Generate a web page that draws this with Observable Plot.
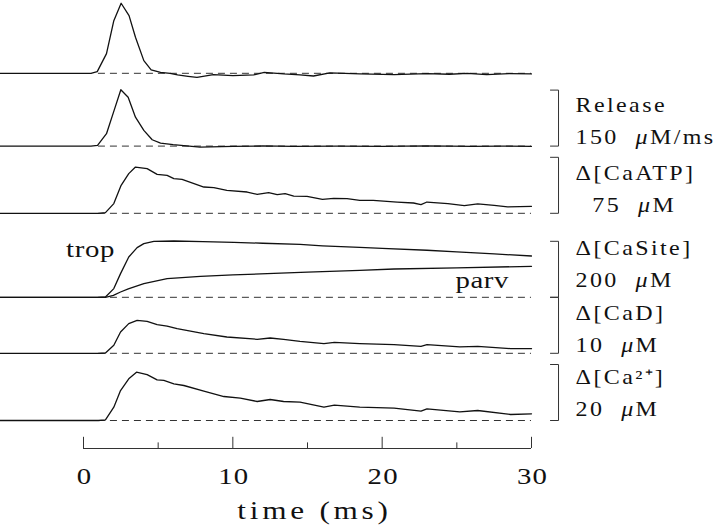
<!DOCTYPE html>
<html>
<head>
<meta charset="utf-8">
<script src="https://cdn.jsdelivr.net/npm/d3@7"></script>
<script src="https://cdn.jsdelivr.net/npm/@observablehq/plot@0.6"></script>
<style>
  html, body { margin: 0; padding: 0; background: #fff; }
  #chart svg { display: block; }
</style>
</head>
<body>
<div id="chart"></div>
<script>
// ---------- data (time in ms, values in trace units) ----------
const topTime    = [-5.6, 0.5, 0.92, 1.54, 2.03, 2.52, 3.05, 3.48, 4.04, 4.53, 5.16, 5.8, 6.3, 7.0, 7.6, 8.2, 8.7, 10.0, 11.4, 12.1, 13.4, 14.5, 15.4, 16.5, 18.5, 20.8, 23.0, 24.5, 25.7, 27.0, 28.5, 30];
const topValue   = [0, 0, 4.6, 52.8, 141, 187.6, 154.6, 96.5, 34, 9.1, 2.7, 0, -4.3, -8, -10.7, -7, -3.5, -6.2, -4.3, 2.7, -1.6, -4, -7.2, 1.1, -1.6, -3.5, -0.8, -2.5, 0, -3.5, -1, -1.6];

const releaseTime  = [-5.6, 0.5, 0.94, 1.54, 2.05, 2.5, 2.99, 3.48, 4.04, 4.6, 5.16, 6.0, 7.8, 10, 12, 14, 17, 20, 23, 26, 28, 30];
const releaseValue = [0, 0, 1.9, 33.2, 95.6, 151, 131, 77.5, 42, 17, 8, 3.8, -2.7, -1, 0.5, -1, 0, -1, 0.5, -1, 0, -0.5];

const caATPTime  = [-5.6, 1.0, 1.47, 2.03, 2.52, 3.03, 3.48, 4.26, 4.93, 5.6, 6.05, 6.6, 8.06, 8.73, 9.6, 10.96, 11.63, 12.4, 12.97, 13.5, 14.08, 14.97, 16.0, 16.76, 17.65, 18.5, 19.4, 21.0, 22.1, 22.6, 23.0, 24.4, 25.5, 26.4, 27.5, 28.4, 30];
const caATPValue = [0, 0, 0.9, 13.0, 37.5, 53.1, 61.9, 59.8, 52.2, 50.9, 46.5, 45.5, 35.2, 34.4, 30.8, 28.5, 25.4, 27.7, 25.0, 26.3, 23.1, 22.8, 18.7, 20.1, 19.6, 17.4, 17.4, 15.1, 13.8, 11.6, 15.1, 13.0, 10.3, 12.5, 10.7, 8.5, 9.4];

const tropTime  = [-5.6, 1.0, 1.47, 2.03, 2.48, 3.03, 3.59, 4.04, 4.71, 6.05, 8, 10.07, 12, 14.5, 16, 18.5, 20, 23, 25, 27.5, 30];
const tropValue = [0, 0, 1.2, 31.1, 84.6, 143.9, 177.5, 191.8, 200, 201.1, 199, 196.4, 193, 189.3, 184, 178, 174.5, 168, 162, 155, 147.5];

const parvTime  = [-5.6, 1.0, 1.47, 2.0, 2.48, 3.0, 4.04, 5.6, 7.83, 10, 12.3, 15, 18.5, 20.8, 25, 30];
const parvValue = [0, 0, 0, 7, 18.9, 30, 48.9, 66.8, 75, 80, 84.6, 90, 96.4, 101, 105, 110.7];

const caDTime  = [-5.6, 1.0, 1.47, 2.03, 2.48, 3.03, 3.59, 4.26, 4.93, 5.6, 6.27, 8.06, 9.6, 11.63, 12.5, 13.4, 14.5, 16.1, 16.8, 18.5, 20.8, 22.6, 23, 25.2, 26.4, 28.6, 30];
const caDValue = [0, 0, 0.05, 1.43, 3.81, 5.30, 5.89, 5.71, 5.12, 4.87, 4.41, 3.51, 2.91, 2.50, 2.73, 2.50, 2.14, 1.73, 1.96, 1.73, 1.55, 1.25, 1.55, 1.13, 1.25, 0.83, 0.83];

const caTime  = [-5.6, 1.0, 1.47, 2.03, 2.48, 3.03, 3.55, 4.26, 4.93, 5.38, 6.05, 6.72, 8.06, 9.4, 10.5, 11.63, 12.5, 13.4, 14.5, 16.1, 16.8, 18.5, 20.8, 22.6, 23.0, 25.2, 26.4, 28.6, 30];
const caValue = [0, 0, 0.25, 4.75, 10.7, 14.9, 17.25, 16.4, 14.5, 14.3, 13.1, 12.5, 10.5, 8.57, 7.96, 6.79, 7.5, 6.79, 6.54, 4.75, 5.46, 4.75, 4.39, 3.32, 4.18, 3.11, 3.57, 2.14, 2.39];

// scale-bar sizes (one bar = value below), label texts
const barSizes   = [150, 150, 75, 200, 10, 20];        // top, Release, CaATP, CaSite, CaD, Ca2+
const labelNames = ["Release", "Δ[CaATP]", "Δ[CaSite]", "Δ[CaD]", "Δ[Ca²⁺]"];
const labelUnits = ["150\u00a0\u00a0μM/ms", "\u00a0\u00a075\u00a0\u00a0μM", "200\u00a0\u00a0μM", "10\u00a0\u00a0μM", "20\u00a0\u00a0μM"];
const curveNames = ["trop", "parv"];
const curveLabelTime  = [0.47, 26.7];
const curveLabelValue = [144, 35];
const xTicks      = [0, 10, 20, 30];
const xMinorTicks = [5, 15, 25];
const xTitle = "time (ms)";

// ---------- layout (stack offsets in scale-bar units, 1 unit = 56 px) ----------
const unitPx = 56;
const offsets = [6.7, 5.4, 4.2, 2.7, 1.7, 0.5];
const bracketX = [31.27, 31.81];
const labelX = 32.95;
const labelLiftPx = [2, 1, 10, 1, 5];

const traceSpecs = [
  {name: "top",  t: topTime,     v: topValue,     k: 0},
  {name: "rel",  t: releaseTime, v: releaseValue, k: 1},
  {name: "atp",  t: caATPTime,   v: caATPValue,   k: 2},
  {name: "trop", t: tropTime,    v: tropValue,    k: 3},
  {name: "parv", t: parvTime,    v: parvValue,    k: 3},
  {name: "cad",  t: caDTime,     v: caDValue,     k: 4},
  {name: "ca",   t: caTime,      v: caValue,      k: 5}
];
const traceRows = traceSpecs.flatMap(s => s.t.map((t, i) => ({name: s.name, t, y: offsets[s.k] + s.v[i] / barSizes[s.k]})));

const baselines = offsets.map((o, k) => ({k, y: o}));

const brackets = labelNames.flatMap((n, i) => {
  const o = offsets[i + 1];
  return [
    {id: i, x: bracketX[0], y: o + 1},
    {id: i, x: bracketX[1], y: o + 1},
    {id: i, x: bracketX[1], y: o},
    {id: i, x: bracketX[0], y: o}
  ];
});
const labels = labelNames.map((n, i) => ({text: n + "\n" + labelUnits[i], y: offsets[i + 1] + labelLiftPx[i] / unitPx}));
const curveLabels = curveNames.map((n, i) => ({text: n, t: curveLabelTime[i], y: offsets[3] + curveLabelValue[i] / barSizes[3]}));

const ticksAll = [...xTicks.map(t => ({t, len: 0.2})), ...xMinorTicks.map(t => ({t, len: 0.1}))];

const chart = Plot.plot({
  width: 720,
  height: 530,
  marginTop: 0,
  marginRight: 0,
  marginBottom: 82,
  marginLeft: 0,
  x: {domain: [0, 30], range: [83, 531], axis: null},
  y: {domain: [0, 1], range: [448, 448 - unitPx], axis: null},
  style: {fontFamily: "'Liberation Serif', serif", background: "#fff", color: "#111"},
  marks: [
    Plot.ruleY(baselines, {y: "y", x1: 1.0, x2: 30, stroke: "#333", strokeWidth: 1, strokeDasharray: "7,5"}),
    Plot.line(traceRows, {x: "t", y: "y", z: "name", stroke: "#111", strokeWidth: 1.3, curve: "linear"}),
    Plot.line(brackets, {x: "x", y: "y", z: "id", stroke: "#333", strokeWidth: 1}),
    Plot.text(labels, {x: labelX, y: "y", text: "text", textAnchor: "start", lineAnchor: "bottom", lineHeight: 1.6, fontSize: 20, fill: "#111"}),
    Plot.text(curveLabels, {x: "t", y: "y", text: "text", textAnchor: "middle", lineAnchor: "bottom", fontSize: 24, fill: "#111"}),
    Plot.ruleY([0], {x1: 0, x2: 30, stroke: "#333", strokeWidth: 1}),
    Plot.ruleX(ticksAll, {x: "t", y1: 0, y2: "len", stroke: "#333", strokeWidth: 1}),
    Plot.text(xTicks, {x: d => d, text: d => String(d), frameAnchor: "bottom", dy: 35, dx: 1, lineAnchor: "bottom", textAnchor: "middle", fontSize: 24, fill: "#111"}),
    Plot.text([xTitle], {x: d3.mean(xTicks), text: d => d, frameAnchor: "bottom", dy: 70, dx: 7, lineAnchor: "bottom", textAnchor: "middle", fontSize: 25, fill: "#111"})
  ]
});

// italic Greek mu; widen glyphs to approximate the original typesetting
const ns = "http://www.w3.org/2000/svg";
chart.querySelectorAll("text, tspan").forEach(el => {
  for (const node of [...el.childNodes]) {
    if (node.nodeType === 3 && node.nodeValue.includes("μ")) {
      const parts = node.nodeValue.split("μ");
      const frag = document.createDocumentFragment();
      parts.forEach((p, i) => {
        if (i > 0) {
          const ts = document.createElementNS(ns, "tspan");
          ts.setAttribute("font-style", "italic");
          ts.textContent = "μ";
          frag.appendChild(ts);
        }
        if (p) frag.appendChild(document.createTextNode(p));
      });
      el.replaceChild(frag, node);
    }
  }
});
chart.querySelectorAll("text").forEach(t => {
  const s = t.textContent;
  let ls = null, sx = 1.2;
  if (labelNames.some(n => s.startsWith(n))) ls = 2;
  else if (curveNames.includes(s)) ls = 0.5;
  else if (xTicks.map(String).includes(s)) ls = 1;
  else if (s === xTitle) { ls = 3; sx = 1.25; }
  if (ls !== null) {
    t.style.letterSpacing = ls + "px";
    const tr = t.getAttribute("transform") || "";
    t.setAttribute("transform", tr + ` scale(${sx},1)`);
  }
});

document.getElementById("chart").appendChild(chart);
</script>
</body>
</html>
